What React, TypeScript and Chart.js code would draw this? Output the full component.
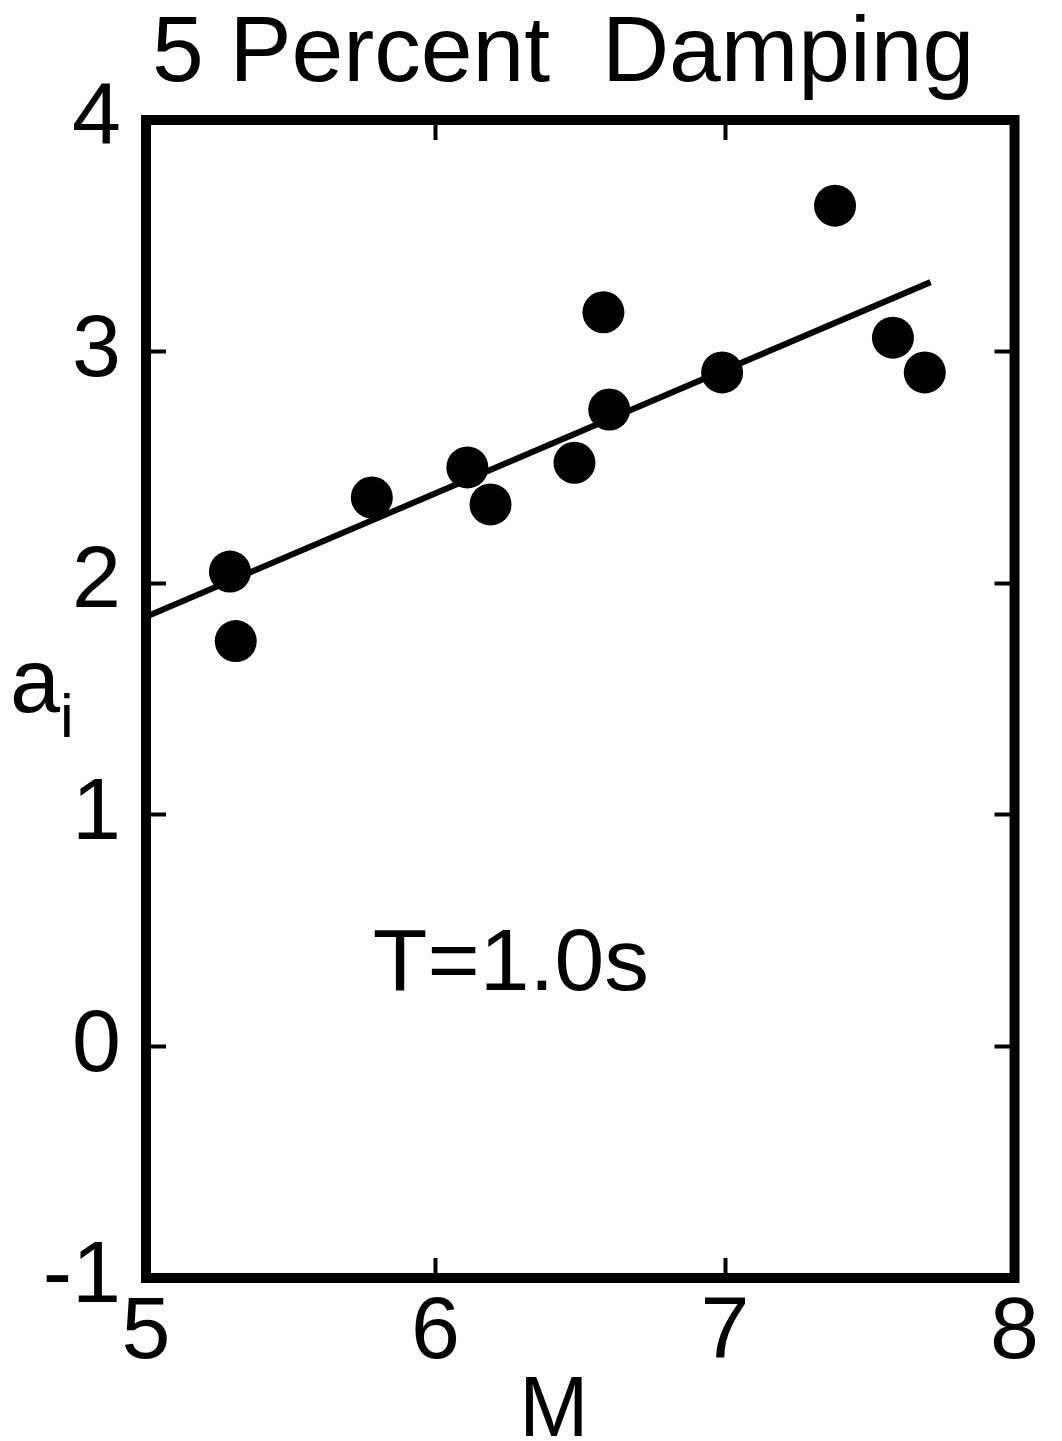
import React, { useEffect, useRef } from 'react';
import { Chart, registerables } from 'chart.js';

Chart.register(...registerables);

// ---- data ----
const magnitudes = [5.29, 5.31, 5.78, 6.11, 6.19, 6.48, 6.58, 6.6, 6.99, 7.38, 7.58, 7.69];
const coefficients = [2.05, 1.75, 2.37, 2.5, 2.34, 2.52, 3.17, 2.75, 2.91, 3.63, 3.06, 2.91];
const fitMagnitudes = [5.0, 7.71];
const fitCoefficients = [1.855, 3.3];
const xTickValues = [5, 6, 7, 8];
const yTickValues = [-1, 0, 1, 2, 3, 4];
const titleText = '5 Percent  Damping';
const xAxisLabel = 'M';
const yAxisLabel = 'a';
const yAxisLabelSub = 'i';
const noteText = 'T=1.0s';
const notePosition = [5.787, 0.245];

const FONT = '"Liberation Sans", Arial, Helvetica, sans-serif';

function drawFitted(ctx: CanvasRenderingContext2D, text: string, left: number, baseline: number, size: number, width: number) {
  ctx.font = `${size}px ${FONT}`;
  const m = ctx.measureText(text);
  const w = m.actualBoundingBoxLeft + m.actualBoundingBoxRight;
  const sx = width / w;
  ctx.save();
  ctx.translate(left, baseline);
  ctx.scale(sx, 1);
  ctx.textAlign = 'left';
  ctx.textBaseline = 'alphabetic';
  ctx.fillStyle = '#000';
  ctx.fillText(text, m.actualBoundingBoxLeft, 0);
  ctx.restore();
}

const framePlugin = {
  id: 'frame',
  beforeDatasetsDraw(chart: any) {
    const { ctx, chartArea } = chart;
    ctx.save();
    ctx.strokeStyle = '#000';
    ctx.lineWidth = 10;
    ctx.lineJoin = 'miter';
    ctx.strokeRect(chartArea.left, chartArea.top, chartArea.right - chartArea.left, chartArea.bottom - chartArea.top);
    ctx.restore();
  },
  afterDraw(chart: any) {
    const { ctx } = chart;
    const xs = chart.scales.x;
    const ys = chart.scales.y;
    // title
    drawFitted(ctx, titleText, 155, 81, 92, 814);
    // x axis label
    drawFitted(ctx, xAxisLabel, 526, 1436, 86, 56);
    // y axis label with subscript
    ctx.save();
    ctx.fillStyle = '#000';
    ctx.textAlign = 'left';
    ctx.textBaseline = 'alphabetic';
    ctx.font = `90px ${FONT}`;
    ctx.fillText(yAxisLabel, 10, 712);
    ctx.font = `62px ${FONT}`;
    ctx.fillText(yAxisLabelSub, 60, 737);
    ctx.restore();
    // note
    const nx = xs.getPixelForValue(notePosition[0]);
    const ny = ys.getPixelForValue(notePosition[1]);
    drawFitted(ctx, noteText, nx, ny, 88, 272);
  },
};

const gridOpts = {
  drawOnChartArea: false,
  drawTicks: true,
  tickLength: -20,
  tickWidth: 4,
  tickColor: '#000',
};

export default function App() {
  const canvasRef = useRef<HTMLCanvasElement | null>(null);

  useEffect(() => {
    const canvas = canvasRef.current;
    if (!canvas) return;
    const chart = new Chart(canvas, {
      type: 'scatter',
      data: {
        datasets: [
          {
            label: 'fit',
            data: fitMagnitudes.map((m, i) => ({ x: m, y: fitCoefficients[i] })),
            showLine: true,
            borderColor: '#000',
            borderWidth: 6,
            pointRadius: 0,
            fill: false,
          },
          {
            label: 'a_i',
            data: magnitudes.map((m, i) => ({ x: m, y: coefficients[i] })),
            showLine: false,
            pointRadius: 21,
            pointBackgroundColor: '#000',
            pointBorderWidth: 0,
            backgroundColor: '#000',
          },
        ],
      },
      options: {
        responsive: false,
        animation: false,
        devicePixelRatio: 1,
        layout: { padding: { top: 100, left: 0, right: 0, bottom: 0 }, autoPadding: false },
        plugins: {
          legend: { display: false },
          title: { display: false },
          tooltip: { enabled: false },
        },
        scales: {
          x: {
            type: 'linear',
            position: 'bottom',
            min: 5,
            max: 8,
            afterBuildTicks: (s: any) => { s.ticks = xTickValues.map((v) => ({ value: v })); },
            afterFit: (s: any) => { s.height = 163; },
            grid: gridOpts,
            border: { display: false },
            ticks: {
              color: '#000',
              font: { family: FONT, size: 88 },
              padding: 23,
              maxRotation: 0,
              autoSkip: false,
            },
          },
          x2: {
            type: 'linear',
            position: 'top',
            min: 5,
            max: 8,
            afterBuildTicks: (s: any) => { s.ticks = xTickValues.map((v) => ({ value: v })); },
            afterFit: (s: any) => { s.height = 20; },
            grid: gridOpts,
            border: { display: false },
            ticks: { display: false },
          },
          y: {
            type: 'linear',
            position: 'left',
            min: -1,
            max: 4,
            afterBuildTicks: (s: any) => { s.ticks = yTickValues.map((v) => ({ value: v })); },
            afterFit: (s: any) => { s.width = 146; },
            grid: gridOpts,
            border: { display: false },
            ticks: {
              color: '#000',
              font: { family: FONT, size: 88 },
              padding: 45,
              autoSkip: false,
            },
          },
          y2: {
            type: 'linear',
            position: 'right',
            min: -1,
            max: 4,
            afterBuildTicks: (s: any) => { s.ticks = yTickValues.map((v) => ({ value: v })); },
            afterFit: (s: any) => { s.width = 43; },
            grid: gridOpts,
            border: { display: false },
            ticks: { display: false },
          },
        },
      },
      plugins: [framePlugin],
    } as any);
    return () => chart.destroy();
  }, []);

  return (
    <div style={{ position: 'absolute', left: 0, top: 0, width: 1062, height: 1441, background: '#fff' }}>
      <canvas ref={canvasRef} width={1062} height={1441} style={{ width: 1062, height: 1441, display: 'block' }} />
    </div>
  );
}
